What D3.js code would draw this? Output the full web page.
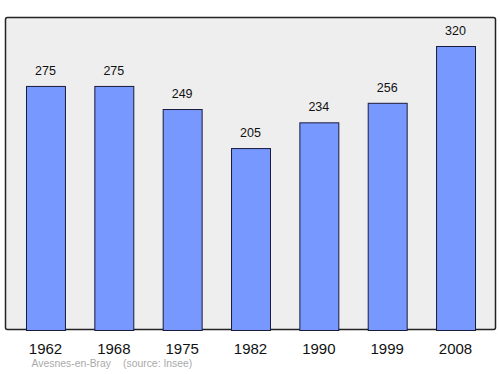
<!DOCTYPE html>
<html>
<head>
<meta charset="utf-8">
<script src="https://cdn.jsdelivr.net/npm/d3@7"></script>
<style>
  body { margin: 0; background: #fff; }
  text { font-family: "Liberation Sans", Arial, sans-serif; }
</style>
</head>
<body>
<script>
var years = ['1962', '1968', '1975', '1982', '1990', '1999', '2008'];
var population = [275, 275, 249, 205, 234, 256, 320];
var town = 'Avesnes-en-Bray';
var source = '(source: Insee)';

var w = 500;
var h = 374;

var svg = d3.select('body')
  .append('svg')
  .attr('width', w)
  .attr('height', h);

/* ===== panel ===== */
svg.append('rect')
  .attr('x', 5.5)
  .attr('y', 17.5)
  .attr('width', 490)
  .attr('height', 312)
  .attr('rx', 2)
  .attr('fill', '#eeeeee')
  .attr('stroke', '#222')
  .attr('stroke-width', 1.5);

/* ===== scales ===== */
var xScale = d3.scaleBand()
  .domain(years)
  .range([11.3, 489.7])
  .paddingInner(0.43)
  .paddingOuter(0.215);

var yScale = d3.scaleLinear()
  .domain([0, 320])
  .range([330, 46]);

var data = years.map(function(y, i) {
  return { year: y, value: population[i] };
});

/* ===== bars ===== */
svg.selectAll('rect.bar')
  .data(data)
  .enter()
  .append('rect')
  .attr('class', 'bar')
  .attr('x', function(d) { return xScale(d.year) + 0.5; })
  .attr('y', function(d) { return yScale(d.value) + 0.5; })
  .attr('width', xScale.bandwidth())
  .attr('height', function(d) { return 330 - yScale(d.value); })
  .attr('fill', '#7799ff')
  .attr('stroke', '#1a1a3a')
  .attr('stroke-width', 1);

/* ===== value labels ===== */
svg.selectAll('text.val')
  .data(data)
  .enter()
  .append('text')
  .attr('class', 'val')
  .attr('x', function(d) { return xScale(d.year) + xScale.bandwidth() / 2; })
  .attr('y', function(d) { return yScale(d.value) - 11; })
  .attr('text-anchor', 'middle')
  .attr('font-size', 12.5)
  .attr('fill', '#111')
  .text(function(d) { return d.value; });

/* ===== year axis ===== */
var xAxis = d3.axisBottom(xScale).tickSize(0).tickPadding(0);
var ax = svg.append('g')
  .attr('transform', 'translate(0,354)')
  .call(xAxis);
ax.select('.domain').remove();
ax.selectAll('text')
  .attr('font-size', 15)
  .attr('fill', '#111')
  .attr('dy', 0)
  .attr('y', 0);

/* ===== source ===== */
svg.append('text')
  .attr('x', 31.5)
  .attr('y', 367)
  .attr('font-size', 10.4)
  .attr('fill', '#aaaaaa')
  .text(town);
svg.append('text')
  .attr('x', 123)
  .attr('y', 367)
  .attr('font-size', 10.4)
  .attr('fill', '#aaaaaa')
  .text(source);
</script>
</body>
</html>
